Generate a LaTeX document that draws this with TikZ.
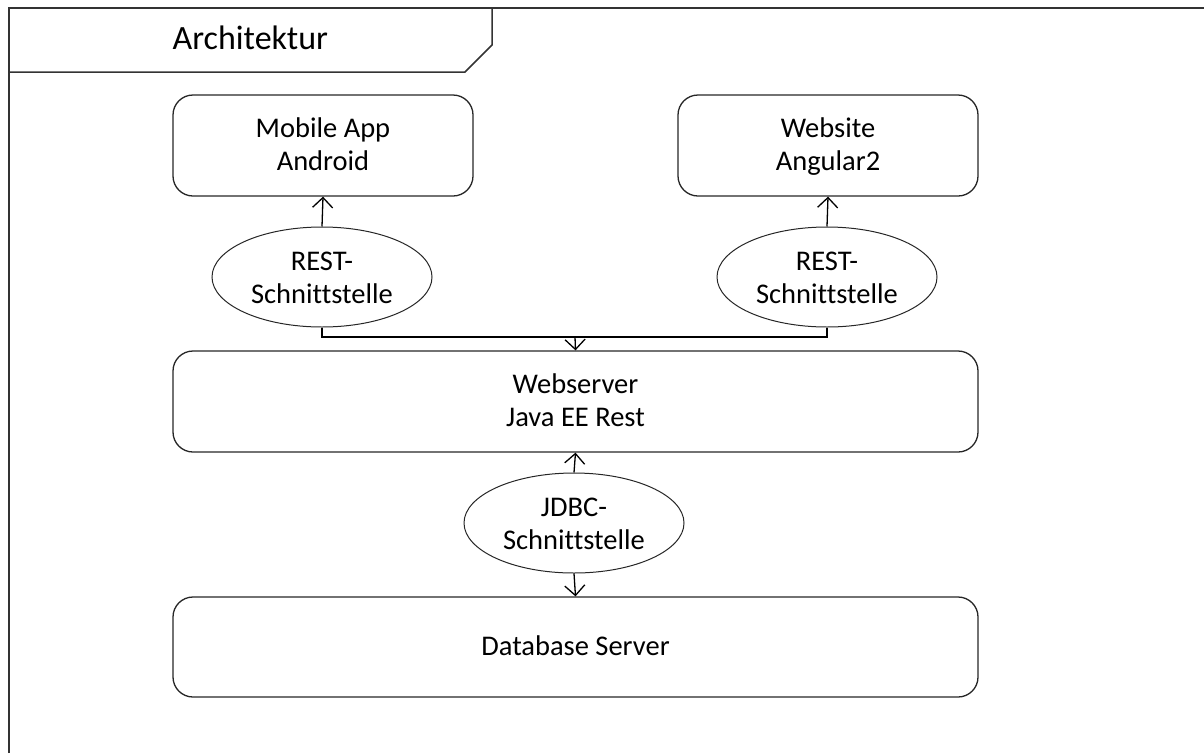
\documentclass[tikz,border=0pt]{standalone}
\usepackage{fontspec}
\setmainfont{Carlito}[Ligatures={NoCommon}]
\usetikzlibrary{arrows.meta,shapes.geometric}
\newcommand\estrut{\rule[-6.9pt]{0pt}{33pt}}
\newcommand\bstrut{\rule[-8pt]{0pt}{33pt}}
\begin{document}
\begin{tikzpicture}[x=1pt,y=-1pt,
  line width=1.3pt,
  txt/.style={align=center,font=\fontsize{28.5}{33}\selectfont},
  box/.style={draw=black!85,rounded corners=20pt,minimum width=300pt,minimum height=101pt,inner sep=0pt,txt},
  wbox/.style={box,minimum width=805pt},
  iface/.style={draw=black!85,line width=1pt,ellipse,minimum width=220pt,minimum height=100pt,inner sep=0pt,txt},
  arr/.style={-{Straight Barb[length=10pt,width=20pt,line width=1.3pt]}},
]
\useasboundingbox (0,0) rectangle (1204,753);
% frame
\draw[line width=1.5pt,black!80] (9,753) -- (9,8) -- (1204,8);
\draw[line width=1.5pt,black!80] (9,72) -- (465,72) -- (492,45) -- (492,8);
\node[anchor=base west,inner sep=0pt,font=\fontsize{34}{38}\selectfont] (title) at (172,49) {Architektur};
% boxes
\node[box] (mobile) at (323,145.5) {\bstrut Mobile App\\\bstrut Android};
\node[box] (website) at (828,145.5) {\bstrut Website\\\bstrut Angular2};
\node[wbox] (web) at (575.5,401.5) {\bstrut Webserver\\\bstrut Java EE Rest};
\node[wbox,minimum height=100pt] (db) at (575.5,647) {\bstrut Database Server};
% interfaces
\node[iface] (restL) at (322,277) {\estrut REST-\\\estrut Schnittstelle};
\node[iface] (restR) at (827,277) {\estrut REST-\\\estrut Schnittstelle};
\node[iface] (jdbc) at (574,523) {\estrut JDBC-\\\estrut Schnittstelle};
% connectors
\coordinate (j) at (575,337);
\draw[arr] (restL.north) -- (mobile.south);
\draw[arr] (restR.north) -- (website.south);
\draw (restL.south) |- (j) -| (restR.south);
\draw[arr] (j) -- (web.north);
\draw[arr] (jdbc.north) -- (web.south);
\draw[arr] (jdbc.south) -- (db.north);
\end{tikzpicture}
\end{document}
